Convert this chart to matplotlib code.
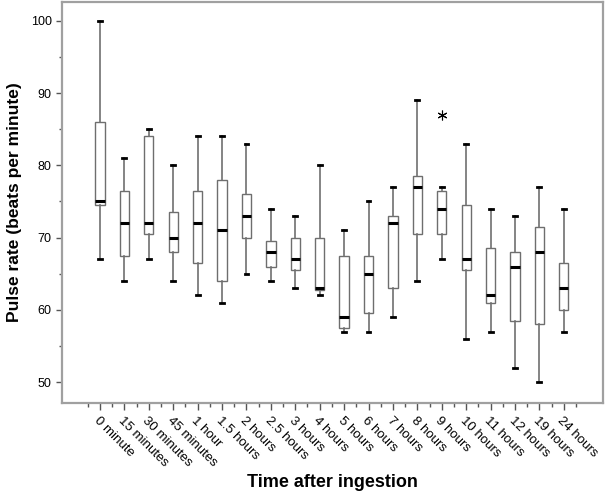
import numpy as np
import matplotlib
matplotlib.use('Agg')
import matplotlib.pyplot as plt
from matplotlib.ticker import MultipleLocator, FixedLocator

plt.rcParams['font.family'] = ['Liberation Sans', 'DejaVu Sans']

# 各时间点的箱线图统计量
labels = ['0 minute', '15 minutes', '30 minutes', '45 minutes', '1 hour',
          '1.5 hours', '2 hours', '2.5 hours', '3 hours', '4 hours',
          '5 hours', '6 hours', '7 hours', '8 hours', '9 hours',
          '10 hours', '11 hours', '12 hours', '19 hours', '24 hours']
whislo = [67, 64, 67, 64, 62, 61, 65, 64, 63, 62, 57, 57, 59, 64, 67, 56, 57, 52, 50, 57]
q1 = [74.5, 67.5, 70.5, 68, 66.5, 64, 70, 66, 65.5, 62.8, 57.5, 59.5, 63, 70.5, 70.5, 65.5, 61, 58.5, 58, 60]
med = [75, 72, 72, 70, 72, 71, 73, 68, 67, 63, 59, 65, 72, 77, 74, 67, 62, 66, 68, 63]
q3 = [86, 76.5, 84, 73.5, 76.5, 78, 76, 69.5, 70, 70, 67.5, 67.5, 73, 78.5, 76.5, 74.5, 68.5, 68, 71.5, 66.5]
whishi = [100, 81, 85, 80, 84, 84, 83, 74, 73, 80, 71, 75, 77, 89, 77, 83, 74, 73, 77, 74]
outliers = {'9 hours': [87]}

stats = []
for i, lab in enumerate(labels):
    stats.append({'label': lab, 'whislo': whislo[i], 'q1': q1[i], 'med': med[i],
                  'q3': q3[i], 'whishi': whishi[i], 'fliers': outliers.get(lab, [])})

fig = plt.figure(figsize=(6.05, 4.94), dpi=100)
ax = fig.add_axes([0.1025, 0.184, 0.894, 0.812])

pos = np.arange(1, len(labels) + 1)
ax.bxp(stats, positions=pos, widths=0.38, capwidths=0.16, patch_artist=True,
       boxprops=dict(facecolor='white', edgecolor='#6e6e6e', linewidth=1.0),
       medianprops=dict(color='black', linewidth=2.2),
       whiskerprops=dict(color='#707070', linewidth=1.2),
       capprops=dict(color='black', linewidth=2.0),
       flierprops=dict(marker=(6, 2, 0), markersize=7, markeredgecolor='black',
                       markeredgewidth=0.8, linestyle='none'))

ax.set_xlim(-0.556, 21.6)
ax.set_ylim(47.1, 102.6)
ax.set_xticks(pos)
ax.set_xticklabels(labels, rotation=-45, ha='left', va='top', rotation_mode='anchor',
                   fontsize=9.5)
ax.xaxis.set_minor_locator(FixedLocator(np.arange(0.5, 21, 1)))
ax.yaxis.set_major_locator(MultipleLocator(10))
ax.yaxis.set_minor_locator(MultipleLocator(5))
ax.tick_params(axis='y', labelsize=9, length=4, width=1, color='#555555')
ax.tick_params(axis='y', which='minor', length=2.5, width=1, color='#555555')
ax.tick_params(axis='x', length=5, width=1, color='#555555', pad=3)
ax.tick_params(axis='x', which='minor', length=3, width=1, color='#555555')

for s in ax.spines.values():
    s.set_color('#a0a0a0')
    s.set_linewidth(1.6)

ax.set_ylabel('Pulse rate (beats per minute)', fontsize=12.5, fontweight='bold', labelpad=6)
ax.set_xlabel('Time after ingestion', fontsize=13, fontweight='bold', labelpad=4)

fig.savefig('out.png', dpi=100)
